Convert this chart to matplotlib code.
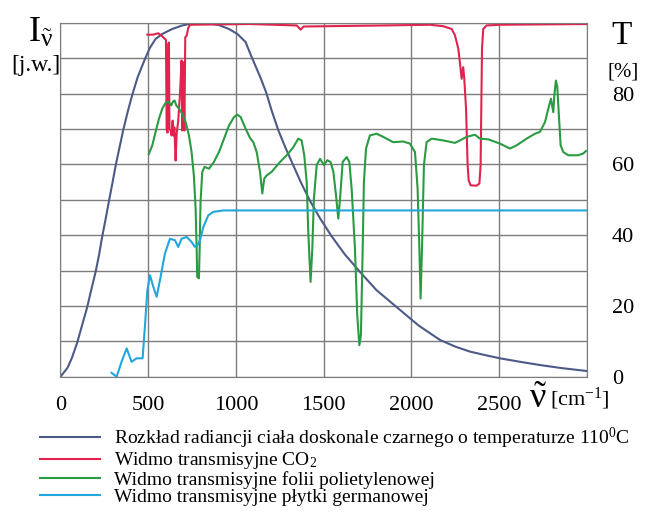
import matplotlib
matplotlib.use("Agg")
import matplotlib.pyplot as plt

plt.rcParams['font.family'] = ['Liberation Serif', 'DejaVu Serif']
plt.rcParams['mathtext.fontset'] = 'custom'
plt.rcParams['mathtext.rm'] = 'Liberation Serif'
plt.rcParams['mathtext.it'] = 'Liberation Serif:italic'
plt.rcParams['mathtext.bf'] = 'Liberation Serif:bold'

# blackbody radiation at 110 C (arbitrary units, scaled to 0-100)
bb_nu = [0, 40, 65, 95, 120, 152, 175, 200, 220, 238, 257, 276, 295, 314, 335, 357, 382,
         409, 440, 481, 510, 542, 580, 637, 694, 751, 798, 846, 903, 960, 1008, 1055,
         1084, 1110, 1140, 1171, 1205, 1241, 1284, 1327, 1373, 1422, 1480, 1545, 1620,
         1707, 1800, 1915, 2040, 2162, 2250, 2333, 2420, 2504, 2620, 2732, 2860, 3000]
bb_val = [0, 2.5, 5.3, 9.6, 14.0, 19.6, 24.5, 29.6, 34.5, 39.7, 44.5, 49.6, 54.5, 59.6,
          64.5, 69.6, 74.7, 79.7, 84.7, 89.8, 93.0, 95.5, 96.9, 98.3, 99.3, 99.9, 100,
          99.9, 99.4, 98.3, 96.9, 94.6, 91.0, 88.0, 84.5, 80.5, 75.0, 69.7, 64.5, 59.7,
          54.6, 49.7, 44.7, 39.7, 34.6, 29.6, 24.5, 19.7, 14.5, 10.4, 8.5, 7.1, 6.1, 5.2,
          4.2, 3.3, 2.4, 1.6]

# CO2 transmission [%]
co2_nu = [495, 529, 557, 576, 595, 601, 605, 610, 614, 618, 621, 628, 633, 639, 643, 649,
          656, 662, 671, 681, 690, 694, 700, 706, 711, 719, 728, 738, 1080, 1346, 1369,
          1384, 1839, 2105, 2181, 2229, 2248, 2267, 2280, 2286, 2295, 2301, 2311, 2320,
          2326, 2337, 2371, 2387, 2394, 2402, 2409, 2428, 2504, 3000]
co2_val = [96.7, 96.7, 97.1, 96.4, 95.5, 95.2, 70, 69, 94, 94.5, 70, 69.6, 68.2, 72.4,
           68.2, 70.5, 61.1, 68.7, 72.4, 80, 89.4, 69.6, 88.9, 69.6, 96, 96.4, 98.6, 99.5,
           99.7, 99.3, 98.1, 99, 99.3, 99.5, 99.1, 98.3, 96.5, 92.7, 87, 84.2, 87.5, 84.2,
           75.8, 59.8, 55.5, 54.1, 54, 54.6, 59.8, 92.7, 98.3, 99.3, 99.5, 99.7]

# polyethylene foil transmission [%]
pe_nu = [504, 523, 542, 561, 580, 599, 614, 624, 631, 641, 650, 660, 675, 694, 713, 732,
         747, 760, 770, 776, 779, 789, 793, 798, 808, 821, 846, 874, 903, 932, 960, 989,
         1008, 1027, 1055, 1080, 1099, 1118, 1137, 1150, 1161, 1175, 1203, 1251, 1289,
         1327, 1355, 1374, 1389, 1403, 1412, 1425, 1435, 1444, 1460, 1479, 1501, 1520,
         1539, 1555, 1570, 1583, 1593, 1608, 1631, 1646, 1659, 1678, 1691, 1703, 1712,
         1722, 1729, 1741, 1763, 1801, 1839, 1896, 1953, 1991, 2020, 2035, 2045, 2052,
         2060, 2071, 2086, 2115, 2181, 2248, 2276, 2314, 2362, 2390, 2438, 2504, 2561,
         2599, 2656, 2704, 2732, 2761, 2780, 2795, 2808, 2814, 2823, 2831, 2840, 2850,
         2865, 2894, 2950, 2979, 2994]
pe_val = [63.0, 65.4, 69.2, 72.9, 75.8, 77.4, 77.8, 77.2, 76.7, 77.8, 78.1, 76.7, 75.8,
          74.3, 72.0, 68.2, 63.5, 56.9, 47.5, 36.2, 28.2, 27.8, 36.2, 49.4, 57.9, 59.3,
          58.8, 60.7, 63.5, 67.3, 71.0, 73.4, 74.1, 73.4, 70.1, 67.5, 66.3, 63.5, 57.9,
          51.8, 56.0, 56.9, 57.9, 60.7, 62.6, 64.9, 67.3, 66.8, 62.6, 55.0, 40.9, 26.8,
          36.2, 50.3, 59.8, 61.6, 59.8, 61.2, 60.7, 57.9, 51.3, 44.7, 50.3, 60.7, 62.1,
          60.7, 53.2, 36.2, 17.4, 8.9, 11.8, 36.2, 55.0, 64.5, 68.2, 68.7, 67.8, 66.3,
          66.5, 65.9, 63.5, 53.2, 36.2, 22.1, 36.2, 59.8, 66.3, 67.3, 66.8, 66.1, 66.8,
          67.8, 68.4, 67.3, 67.1, 65.9, 64.5, 65.4, 67.3, 68.7, 69.2, 72.0, 75.8, 78.6,
          74.8, 79.5, 83.7, 81.9, 73.9, 65.4, 63.5, 62.6, 62.6, 63.1, 63.8]

# germanium plate transmission [%]
ge_nu = [291, 320, 348, 377, 405, 434, 468, 481, 495, 510, 529, 548, 567, 595, 624, 652,
         671, 690, 719, 747, 766, 781, 795, 814, 842, 871, 928, 3000]
ge_val = [1.1, 0, 4.2, 8.0, 4.2, 5.2, 5.2, 14.1, 24.4, 28.7, 25.4, 22.6, 27.3, 34.8, 39.0,
          38.6, 36.7, 39.0, 39.5, 38.1, 36.7, 37.2, 38.6, 42.3, 45.6, 46.6, 47.0, 47.0]

labels = ["Rozkład radiancji ciała doskonale czarnego o temperaturze 110$^{\\mathrm{0}}$C",
          "Widmo transmisyjne CO$_{2}$",
          "Widmo transmisyjne folii polietylenowej",
          "Widmo transmisyjne płytki germanowej"]
colors = ['#4b5a86', '#e0244f', '#2a9b42', '#22a6dc']

fig = plt.figure(figsize=(6.49, 5.13), dpi=100)
ax = fig.add_axes([0.0932, 0.2657, 0.8112, 0.6895])

l1, = ax.plot(bb_nu, bb_val, color=colors[0], lw=1.5)
l2, = ax.plot(co2_nu, co2_val, color=colors[1], lw=1.5)
l3, = ax.plot(pe_nu, pe_val, color=colors[2], lw=1.5)
l4, = ax.plot(ge_nu, ge_val, color=colors[3], lw=1.5)

ax.set_xlim(0, 3000)
ax.set_ylim(0, 100)
ax.set_xticks(range(0, 3001, 500))
ax.set_xticklabels(['0', '500', '1000', '1500', '2000', '2500', ''])
ax.set_yticks(range(0, 101, 10))
ax.set_yticklabels([])
ax.grid(True, color='#7c7c7c', lw=1)
ax.set_axisbelow(True)
ax.tick_params(length=0, labelsize=16, pad=14)
for s in ax.spines.values():
    s.set_color('#7c7c7c')

ax2 = ax.twinx()
ax2.set_ylim(0, 100)
ax2.set_yticks([0, 20, 40, 60, 80])
ax2.tick_params(length=0, labelsize=16, pad=18)
for s in ax2.spines.values():
    s.set_visible(False)

# axis captions
fig.text(0.043, 0.935, r'I$_{\tilde{\mathrm{\nu}}}$', fontsize=26, ha='left', va='center')
fig.text(0.055, 0.873, '[j.w.]', fontsize=17, ha='center', va='center')
fig.text(0.957, 0.93, 'T', fontsize=24, ha='center', va='center')
fig.text(0.96, 0.86, '[%]', fontsize=15, ha='center', va='center')
fig.text(0.815, 0.222, r'$\tilde{\mathrm{\nu}}$', fontsize=26, ha='left', va='center')
fig.text(0.847, 0.222, '[cm$^{-1}$]', fontsize=16, ha='left', va='center')

fig.legend([l1, l2, l3, l4], labels, loc='upper left', bbox_to_anchor=(0.0616, 0.17),
           frameon=False, fontsize=14, handlelength=3.1, handletextpad=0.7,
           labelspacing=-0.03, borderaxespad=0, borderpad=0)

fig.savefig('out.png', dpi=100)
